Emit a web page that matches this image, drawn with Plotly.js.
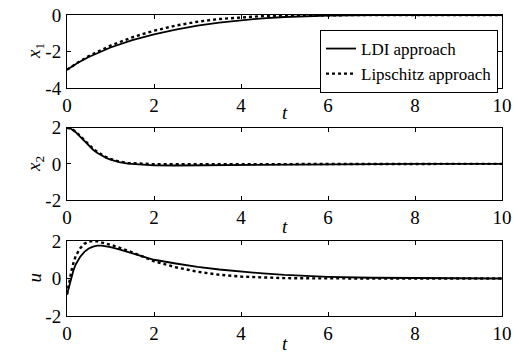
<!DOCTYPE html>
<html>
<head>
<meta charset="utf-8">
<script src="https://cdn.plot.ly/plotly-3.0.1.min.js"></script>
<style>html,body{margin:0;padding:0;background:#fff;}#chart{width:519px;height:353px;}</style>
</head>
<body>
<div id="chart"></div>
<script>
// x1 data
const t_x1 = [0,0.25,0.5,0.75,1,1.5,2,2.5,3,3.5,4,4.5,5,5.5,6,7,8,9,10];
const x1_ldi = [-3,-2.62,-2.3,-2.02,-1.78,-1.38,-1.06,-0.8,-0.58,-0.42,-0.28,-0.18,-0.11,-0.06,-0.03,-0.01,0,0,0];
const x1_lip = [-3,-2.6,-2.25,-1.95,-1.68,-1.22,-0.86,-0.58,-0.37,-0.22,-0.12,-0.06,-0.03,-0.015,-0.01,0,0,0,0];
// x2 data
const t_x2 = [0,0.1,0.2,0.3,0.4,0.5,0.6,0.7,0.8,0.9,1,1.2,1.4,1.7,2,2.5,3,4,5,6,8,10];
const x2_ldi = [2,1.93,1.75,1.5,1.25,1.0,0.78,0.6,0.45,0.33,0.23,0.09,0.01,-0.05,-0.08,-0.09,-0.08,-0.05,-0.03,-0.01,0,0];
const x2_lip = [2,1.94,1.78,1.55,1.3,1.06,0.84,0.66,0.5,0.37,0.27,0.13,0.05,0.0,-0.02,-0.02,-0.02,-0.01,0,0,0,0];
// u data
const t_u = [0,0.05,0.1,0.15,0.2,0.3,0.4,0.5,0.6,0.7,0.8,0.9,1,1.2,1.5,2,2.5,3,3.5,4,4.5,5,5.5,6,7,8,9,10];
const u_ldi = [-0.85,-0.4,0.05,0.45,0.75,1.15,1.42,1.6,1.7,1.75,1.75,1.72,1.67,1.55,1.35,1.0,0.8,0.62,0.48,0.36,0.27,0.19,0.13,0.09,0.04,0.02,0.01,0];
const u_lip = [-0.85,-0.2,0.4,0.85,1.2,1.6,1.85,1.97,2.0,1.98,1.93,1.87,1.8,1.65,1.4,0.92,0.6,0.36,0.2,0.1,0.05,0.02,0.01,0,0,0,0,0];
const seriesNames = ["LDI approach","Lipschitz approach"];
const xTicks = [0,2,4,6,8,10];
const yTicks1 = [-4,-2,0];
const yTicks23 = [-2,0,2];

const FAM = "'Liberation Serif', 'Times New Roman', Times, 'DejaVu Serif', serif";
const font = {family:FAM, size:19, color:"#000"};
const solid = {color:"#000", width:1.8, dash:"solid"};
const dotted = {color:"#000", width:2.4, dash:"dot"};

const traces = [
  {x:t_x1, y:x1_ldi, xaxis:"x", yaxis:"y", mode:"lines", line:solid, name:seriesNames[0], showlegend:true},
  {x:t_x1, y:x1_lip, xaxis:"x", yaxis:"y", mode:"lines", line:dotted, name:seriesNames[1], showlegend:true},
  {x:t_x2, y:x2_ldi, xaxis:"x2", yaxis:"y2", mode:"lines", line:solid, showlegend:false},
  {x:t_x2, y:x2_lip, xaxis:"x2", yaxis:"y2", mode:"lines", line:dotted, showlegend:false},
  {x:t_u, y:u_ldi, xaxis:"x3", yaxis:"y3", mode:"lines", line:solid, showlegend:false},
  {x:t_u, y:u_lip, xaxis:"x3", yaxis:"y3", mode:"lines", line:dotted, showlegend:false}
];

const xd = [67/519, 502/519];
function xax(anchor){
  return {domain:xd, anchor:anchor, range:[0,10], tickvals:xTicks, ticktext:xTicks.map(String),
    showline:true, mirror:"ticks", linecolor:"#000", linewidth:1, ticks:"inside", ticklen:4, tickcolor:"#000",
    showgrid:false, zeroline:false, tickfont:font, ticklabelstandoff:0};
}
function yax(anchor, dom, range, tv){
  return {domain:dom, anchor:anchor, range:range, tickvals:tv, ticktext:tv.map(String),
    showline:true, mirror:"ticks", linecolor:"#000", linewidth:1, ticks:"inside", ticklen:4, tickcolor:"#000",
    showgrid:false, zeroline:false, tickfont:font, ticklabelstandoff:1};
}
const H = 353;
const layout = {
  width:519, height:353, margin:{l:0,r:0,t:0,b:0},
  paper_bgcolor:"#fff", plot_bgcolor:"#fff",
  font:font,
  xaxis: xax("y"),
  xaxis2: xax("y2"),
  xaxis3: xax("y3"),
  yaxis: yax("x", [1-88/H, 1-15/H], [-4,0], yTicks1),
  yaxis2: yax("x2", [1-200/H, 1-127.7/H], [-2,2], yTicks23),
  yaxis3: yax("x3", [1-316/H, 1-241/H], [-2,2], yTicks23),
  showlegend:true,
  legend:{x:498/519, y:1-30/H, xanchor:"right", yanchor:"top", bgcolor:"#fff", bordercolor:"#000", borderwidth:1,
    font:{family:FAM, size:17, color:"#000"}, tracegroupgap:0, itemwidth:30},
  annotations:[
    {text:"<i>x</i><sub>1</sub>", xref:"paper", yref:"paper", x:21/519, y:1-51/H, yanchor:"middle", showarrow:false, textangle:-90, font:font},
    {text:"<i>x</i><sub>2</sub>", xref:"paper", yref:"paper", x:21/519, y:1-164/H, yanchor:"middle", showarrow:false, textangle:-90, font:font},
    {text:"<i>u</i>", xref:"paper", yref:"paper", x:21/519, y:1-278/H, yanchor:"middle", showarrow:false, textangle:-90, font:font},
    {text:"<i>t</i>", xref:"paper", yref:"paper", x:285/519, y:1-112/H, yanchor:"middle", showarrow:false, font:font},
    {text:"<i>t</i>", xref:"paper", yref:"paper", x:285/519, y:1-226/H, yanchor:"middle", showarrow:false, font:font},
    {text:"<i>t</i>", xref:"paper", yref:"paper", x:285/519, y:1-343/H, yanchor:"middle", showarrow:false, font:font}
  ]
};
Plotly.newPlot("chart", traces, layout, {staticPlot:true, displayModeBar:false});
</script>
</body>
</html>
